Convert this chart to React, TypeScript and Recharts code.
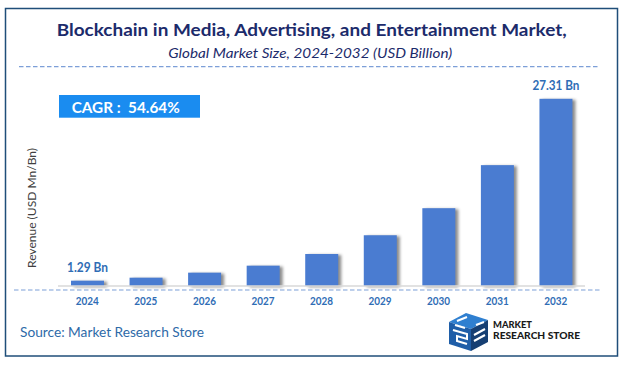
import React from 'react';
import { BarChart, Bar, XAxis, YAxis, LabelList } from 'recharts';

const years = ['2024', '2025', '2026', '2027', '2028', '2029', '2030', '2031', '2032'];
const revenue = [1.29, 1.72, 2.44, 3.44, 5.11, 7.79, 11.66, 17.82, 27.31];
const valueLabels = ['1.29 Bn', '', '', '', '', '', '', '', '27.31 Bn'];

const titleText = 'Blockchain in Media, Advertising, and Entertainment Market,';
const subtitleText = 'Global Market Size, 2024-2032 (USD Billion)';
const cagrText = 'CAGR :\u00a0 54.64%';
const sourceText = 'Source: Market Research Store';
const yAxisTitle = 'Revenue (USD Mn/Bn)';

const data = years.map((year, i) => ({ year, value: revenue[i], label: valueLabels[i] }));

const FONT = 'Lato, "Noto Sans", sans-serif';
const BAR_COLOR = '#4a7cd1';
const LABEL_COLOR = '#2f6db5';

const ShadowBar = (props: any) => {
  const { x, y, width, height } = props;
  if (height <= 0) return null;
  return (
    <rect
      x={x}
      y={y}
      width={width}
      height={height}
      fill={BAR_COLOR}
      style={{ filter: 'drop-shadow(3px 1px 1.5px rgba(0,0,0,0.45))' }}
    />
  );
};

const YearTick = (props: any) => {
  const { x, y, payload } = props;
  return (
    <text
      x={x}
      y={y}
      dy="0.71em"
      textAnchor="middle"
      fill={LABEL_COLOR}
      fontFamily={FONT}
      fontWeight={700}
      fontSize={12}
      textLength={23}
      lengthAdjust="spacingAndGlyphs"
    >
      {payload.value}
    </text>
  );
};

const ValueLabel = (props: any) => {
  const { x, y, width, index } = props;
  const txt = valueLabels[index];
  if (!txt) return null;
  return (
    <text
      x={x + width / 2}
      y={y - 9}
      textAnchor="middle"
      fill={LABEL_COLOR}
      fontFamily={FONT}
      fontWeight={700}
      fontSize={12.5}
      textLength={txt.length > 7 ? 47 : 41}
      lengthAdjust="spacingAndGlyphs"
    >
      {txt}
    </text>
  );
};

const Logo = () => (
  <g>
    <polygon points="449,322 466,313 488,320 471,329" fill="#2f7fd0" />
    <polygon points="449,322 471,329 471,351 449,344" fill="#1f5ea8" />
    <polygon points="471,329 488,320 488,342 471,351" fill="#163f73" />
    <path d="M455,325 l10,3 M457,321 l10,-4 M476,325 l8,-3" stroke="#ffffff" strokeWidth={2} fill="none" />
    <path d="M453,330 l14,4 v5 l-10,-3 v5 l10,3" stroke="#ffffff" strokeWidth={2} fill="none" />
    <path d="M474,335 l11,-6 M474,341 l11,-6" stroke="#ffffff" strokeWidth={2} fill="none" />
    <text x={493} y={328.3} fontFamily={FONT} fontWeight={900} fontSize={8.5} fill="#1a1a1a" textLength={39} lengthAdjust="spacingAndGlyphs">MARKET</text>
    <text x={493} y={338.6} fontFamily={FONT} fontWeight={900} fontSize={8.5} fill="#1a1a1a" textLength={87} lengthAdjust="spacingAndGlyphs">RESEARCH STORE</text>
  </g>
);

export default function App() {
  return (
    <div style={{ position: 'absolute', left: 0, top: 0, width: 627, height: 365, background: '#ffffff' }}>
      <div style={{ position: 'absolute', left: 0, top: 0 }}>
        <BarChart width={627} height={365} data={data} margin={{ top: 80, right: 42, bottom: 49, left: 58 }}>
          <XAxis
            dataKey="year"
            height={30}
            tickLine={false}
            tickMargin={4}
            axisLine={{ stroke: '#d9d9d9', strokeWidth: 1.5 }}
            tick={<YearTick />}
            interval={0}
          />
          <YAxis hide type="number" domain={[0.53, 30]} />
          <Bar dataKey="value" barSize={33} shape={<ShadowBar />} isAnimationActive={false}>
            <LabelList dataKey="label" content={<ValueLabel />} />
          </Bar>
        </BarChart>
      </div>
      <svg
        width={627}
        height={365}
        style={{ position: 'absolute', left: 0, top: 0, pointerEvents: 'none' }}
      >
        <rect x={5.5} y={8.5} width={612} height={347.5} fill="none" stroke="#1f4e79" strokeWidth={1.5} />
        <text
          x={311.7}
          y={36}
          textAnchor="middle"
          fontFamily={FONT}
          fontWeight={700}
          fontSize={17}
          fill="#1c2b6b"
          textLength={510}
          lengthAdjust="spacingAndGlyphs"
        >
          {titleText}
        </text>
        <text
          x={310.3}
          y={57.5}
          textAnchor="middle"
          fontFamily={FONT}
          fontStyle="italic"
          fontSize={13.5}
          fill="#1c2b6b"
          textLength={284}
          lengthAdjust="spacingAndGlyphs"
        >
          {subtitleText}
        </text>
        <line x1={19} y1={66.7} x2={598} y2={66.7} stroke="#7d9fd8" strokeWidth={1.2} strokeDasharray="4.5 2.5" />
        <line x1={14} y1={290} x2={600} y2={290} stroke="#7d9fd8" strokeWidth={1.2} strokeDasharray="4.5 2.5" />
        <rect x={59} y={95} width={141} height={22.7} fill="#1a8cf0" />
        <text
          x={71.7}
          y={112.7}
          fontFamily={FONT}
          fontWeight={700}
          fontSize={15.5}
          fill="#ffffff"
          textLength={108}
          lengthAdjust="spacingAndGlyphs"
        >
          {cagrText}
        </text>
        <text
          x={0}
          y={0}
          transform="translate(35.5 208) rotate(-90)"
          textAnchor="middle"
          fontFamily={FONT}
          fontSize={12}
          fill="#404040"
          textLength={120}
          lengthAdjust="spacingAndGlyphs"
        >
          {yAxisTitle}
        </text>
        <text
          x={20}
          y={336.7}
          fontFamily={FONT}
          fontSize={14}
          fill="#2e6aa8"
          textLength={184}
          lengthAdjust="spacingAndGlyphs"
        >
          {sourceText}
        </text>
        <Logo />
      </svg>
    </div>
  );
}
